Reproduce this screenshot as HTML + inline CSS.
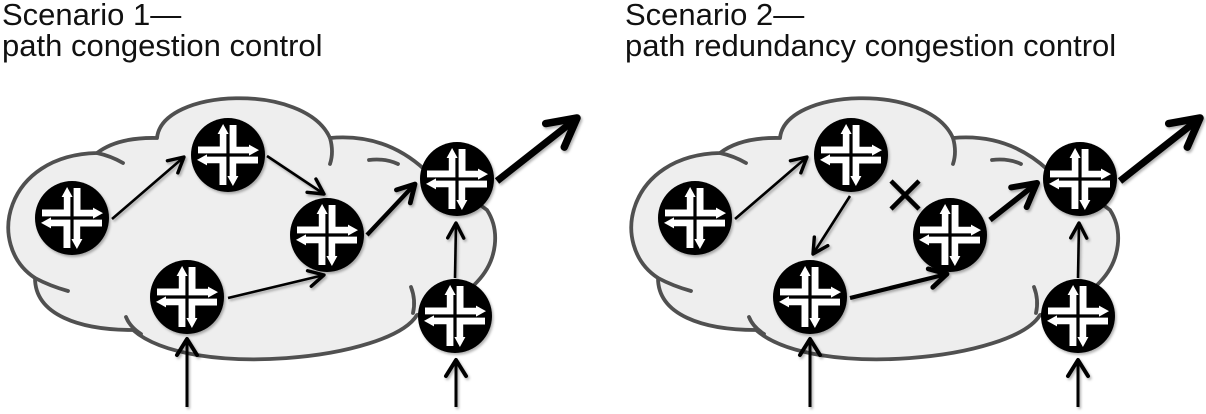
<!DOCTYPE html>
<html>
<head>
<meta charset="utf-8">
<style>
  html, body { margin: 0; padding: 0; background: #ffffff; }
  svg { display: block; }
  text { font-family: "Liberation Sans", Arial, sans-serif; font-size: 31px; fill: #111; }
</style>
</head>
<body>
<svg width="1206" height="414" viewBox="0 0 1206 414" xmlns="http://www.w3.org/2000/svg">
  <defs>
    <filter id="sh" x="-30%" y="-30%" width="160%" height="160%">
      <feDropShadow dx="1.5" dy="2" stdDeviation="1.4" flood-color="#000" flood-opacity="0.3"/>
    </filter>

    <g id="rt">
      <circle cx="0" cy="0" r="37" fill="#000"/>
      <g fill="#fff">
        <polygon points="-30,-8.5 -8.2,-8.5 -8.2,-21 -10.4,-21 -4.9,-31 0.6,-21 -1.6,-21 -1.6,-1.6 -30,-1.6"/>
        <polygon points="8.5,-30 8.5,-8.2 21,-8.2 21,-10.4 31,-4.9 21,0.6 21,-1.6 1.6,-1.6 1.6,-30"/>
        <polygon points="30,8.5 8.2,8.5 8.2,21 10.4,21 4.9,31 -0.6,21 1.6,21 1.6,1.6 30,1.6"/>
        <polygon points="-8.5,30 -8.5,8.2 -21,8.2 -21,10.4 -31,4.9 -21,-0.6 -21,1.6 -1.6,1.6 -1.6,30"/>
      </g>
    </g>

    <marker id="mT" markerUnits="userSpaceOnUse" orient="auto" markerWidth="60" markerHeight="60" viewBox="-40 -30 60 60" refX="0" refY="0" overflow="visible">
      <path d="M-15,-8 L0,0 L-15,8" fill="none" stroke="#000" stroke-width="3.4" stroke-linecap="round" stroke-linejoin="round"/>
    </marker>
    <marker id="mI" markerUnits="userSpaceOnUse" orient="auto" markerWidth="60" markerHeight="60" viewBox="-40 -30 60 60" refX="0" refY="0" overflow="visible">
      <path d="M-16,-10 L0,0 L-16,10" fill="none" stroke="#000" stroke-width="4" stroke-linecap="round" stroke-linejoin="round"/>
    </marker>
    <marker id="mM" markerUnits="userSpaceOnUse" orient="auto" markerWidth="60" markerHeight="60" viewBox="-40 -30 60 60" refX="0" refY="0" overflow="visible">
      <path d="M-17,-9.5 L0,0 L-17,9.5" fill="none" stroke="#000" stroke-width="4.8" stroke-linecap="round" stroke-linejoin="round"/>
    </marker>
    <marker id="mK" markerUnits="userSpaceOnUse" orient="auto" markerWidth="60" markerHeight="60" viewBox="-40 -30 60 60" refX="0" refY="0" overflow="visible">
      <path d="M-23,-12.5 L0,0 L-23,12.5" fill="none" stroke="#000" stroke-width="6" stroke-linecap="round" stroke-linejoin="round"/>
    </marker>
    <marker id="mB" markerUnits="userSpaceOnUse" orient="auto" markerWidth="80" markerHeight="80" viewBox="-50 -40 80 80" refX="0" refY="0" overflow="visible">
      <path d="M-28,-15 L0,0 L-28,15" fill="none" stroke="#000" stroke-width="7.5" stroke-linecap="round" stroke-linejoin="round"/>
    </marker>

    <g id="cloud">
      <path d="M97,153 Q118,137 157,138 C162,88 305,82 330,138 Q385,133 425,170 L460,190 L487,210 C500,230 498,260 477,282 L450,310 L417,315 C390,360 190,380 133,330 C80,330 35,315 35,278 C-15,245 5,155 97,153 Z"
            fill="#eeeeee" stroke="#505050" stroke-width="3.8" stroke-linejoin="round"/>
      <g fill="none" stroke="#505050" stroke-width="3.8" stroke-linecap="round">
        <path d="M97,153 Q111,156 123,163"/>
        <path d="M330,138 Q334,152 330,164"/>
        <path d="M369,160 Q385,158 398,164"/>
        <path d="M411,287 Q416,300 413,313"/>
        <path d="M141,334 Q130,327 126,317"/>
        <path d="M35,278 Q50,286 68,291"/>
      </g>
    </g>

    <g id="routers" filter="url(#sh)">
      <use href="#rt" transform="translate(72,218)"/>
      <use href="#rt" transform="translate(228,155)"/>
      <use href="#rt" transform="translate(327,235)"/>
      <use href="#rt" transform="translate(187,297)"/>
      <use href="#rt" transform="translate(457,179)"/>
      <use href="#rt" transform="translate(455,316)"/>
    </g>
  </defs>

  <!-- Titles -->
  <text x="2" y="25">Scenario 1—</text>
  <text x="2" y="56">path congestion control</text>
  <text x="625" y="25">Scenario 2—</text>
  <text x="625" y="56">path redundancy congestion control</text>

  <!-- Scenario 1 -->
  <g>
    <use href="#cloud"/>
    <use href="#routers"/>
    <g filter="url(#sh)" stroke="#000" fill="none">
      <line x1="112" y1="219" x2="184" y2="157" stroke-width="2.6" marker-end="url(#mT)"/>
      <line x1="267" y1="156" x2="324" y2="194" stroke-width="2.6" marker-end="url(#mT)"/>
      <line x1="228" y1="298" x2="324" y2="275" stroke-width="2.6" marker-end="url(#mT)"/>
      <line x1="367" y1="235" x2="415" y2="184" stroke-width="4.2" marker-end="url(#mM)"/>
      <line x1="497" y1="181" x2="577" y2="118" stroke-width="7" marker-end="url(#mB)"/>
      <line x1="455" y1="278" x2="456" y2="223" stroke-width="2.6" marker-end="url(#mT)"/>
      <line x1="187" y1="407" x2="187" y2="339" stroke-width="3" marker-end="url(#mI)"/>
      <line x1="456" y1="407" x2="456" y2="360" stroke-width="3" marker-end="url(#mI)"/>
    </g>
  </g>

  <!-- Scenario 2 -->
  <g transform="translate(623,0)">
    <use href="#cloud"/>
    <use href="#routers"/>
    <g filter="url(#sh)" stroke="#000" fill="none">
      <line x1="112" y1="219" x2="184" y2="157" stroke-width="2.6" marker-end="url(#mT)"/>
      <line x1="227" y1="196" x2="190" y2="254" stroke-width="2.6" marker-end="url(#mT)"/>
      <line x1="268" y1="181" x2="296" y2="209" stroke-width="4.5" stroke-linecap="butt"/>
      <line x1="296" y1="181" x2="268" y2="209" stroke-width="4.5" stroke-linecap="butt"/>
      <line x1="227" y1="298" x2="324" y2="274" stroke-width="4.2" marker-end="url(#mM)"/>
      <line x1="367" y1="220" x2="414" y2="183" stroke-width="5.5" marker-end="url(#mK)"/>
      <line x1="497" y1="181" x2="577" y2="118" stroke-width="7" marker-end="url(#mB)"/>
      <line x1="455" y1="278" x2="456" y2="223" stroke-width="2.6" marker-end="url(#mT)"/>
      <line x1="187" y1="407" x2="187" y2="339" stroke-width="3" marker-end="url(#mI)"/>
      <line x1="455" y1="407" x2="455" y2="360" stroke-width="3" marker-end="url(#mI)"/>
    </g>
  </g>
</svg>
</body>
</html>
